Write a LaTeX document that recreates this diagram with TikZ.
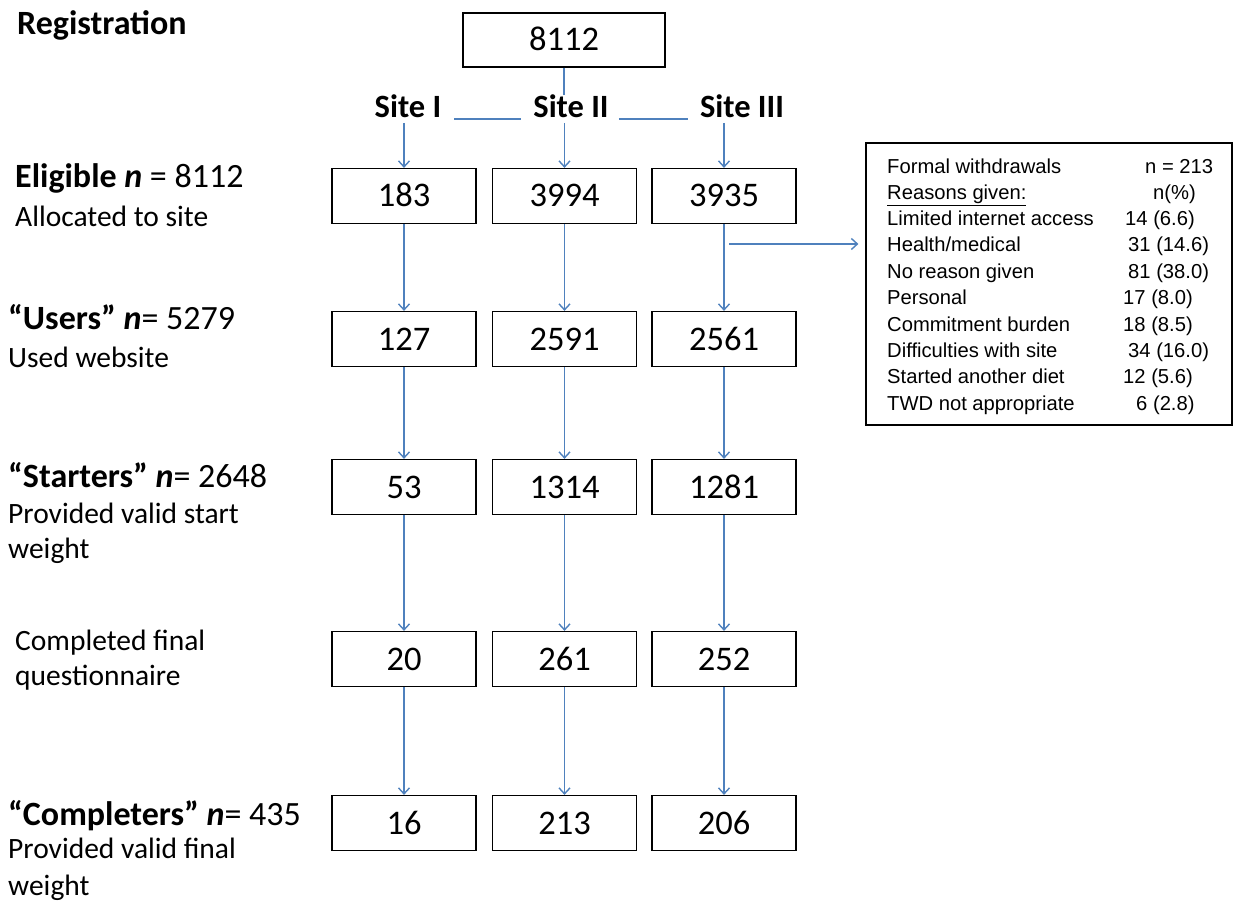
\documentclass[tikz,border=0pt]{standalone}
\usepackage{fontspec}
\setmainfont{Carlito}
\newfontfamily\boxfont{Liberation Sans}
\usetikzlibrary{arrows.meta}
\definecolor{arrblue}{RGB}{79,129,189}
\begin{document}
\begin{tikzpicture}[x=1pt,y=-1pt,
  numbox/.style={draw=black, line width=1.2pt, minimum width=144pt, minimum height=55pt, inner sep=0pt, text height=22pt, text depth=0pt, font=\fontsize{34.5}{38}\selectfont},
  sitelab/.style={font=\fontsize{32.5}{36}\selectfont\bfseries, inner sep=0pt, anchor=base},
  head/.style={font=\fontsize{34}{36}\selectfont, anchor=base west, inner sep=0pt},
  sub/.style={font=\fontsize{29.5}{34}\selectfont, anchor=base west, inner sep=0pt},
  wdtxt/.style={font=\boxfont\fontsize{20.2}{22}\selectfont, anchor=base west, inner sep=0pt},
  link/.style={draw=arrblue, line width=1.3pt},
  arr/.style={link, -{Straight Barb[length=6pt,width=11pt,line width=1.4pt]}}
]
\useasboundingbox (0,0) rectangle (1237,901);

% left labels
\node[head] (lreg) at (17,35) {\textbf{Registration}};
\node[head] (lelig) at (15,188) {\textbf{Eligible \textit{n}} = 8112};
\node[sub] (lelig2) at (15,227) {Allocated to site};
\node[head] (luse) at (8,330) {\textbf{“Users” \textit{n}}= 5279};
\node[sub] (luse2) at (8,367) {Used website};
\node[head] (lsta) at (8,487) {\textbf{“Starters” \textit{n}}= 2648};
\node[sub] (lsta2) at (8,523) {Provided valid start};
\node[sub] (lsta3) at (8,558) {weight};
\node[sub] (lcq) at (15,650) {Completed final};
\node[sub] (lcq2) at (15,685) {questionnaire};
\node[head] (lcom) at (8,825) {\textbf{“Completers” \textit{n}}= 435};
\node[sub] (lcom2) at (8,858) {Provided valid final};
\node[sub] (lcom3) at (8,895) {weight};

% top box and sites
\node[numbox, minimum width=202pt, minimum height=54pt] (top) at (564,40) {8112};
\node[sitelab] (s1) at (408,118) {Site I};
\node[sitelab] (s2) at (571,118) {Site II};
\node[sitelab] (s3) at (742,118) {Site III};

% boxes
\node[numbox] (b11) at (404,196) {183};
\node[numbox] (b12) at (564.5,196) {3994};
\node[numbox] (b13) at (724,196) {3935};
\node[numbox] (b21) at (404,339) {127};
\node[numbox] (b22) at (564.5,339) {2591};
\node[numbox] (b23) at (724,339) {2561};
\node[numbox] (b31) at (404,487) {53};
\node[numbox] (b32) at (564.5,487) {1314};
\node[numbox] (b33) at (724,487) {1281};
\node[numbox] (b41) at (404,659) {20};
\node[numbox] (b42) at (564.5,659) {261};
\node[numbox] (b43) at (724,659) {252};
\node[numbox] (b51) at (404,823) {16};
\node[numbox] (b52) at (564.5,823) {213};
\node[numbox] (b53) at (724,823) {206};

% withdrawal box
\node[draw=black, line width=1.2pt, minimum width=366pt, minimum height=282pt, inner sep=0pt] (wd) at (1049,284) {};
\node[wdtxt] (w1) at (887,174) {Formal withdrawals};
\node[wdtxt] (w1v) at (1145,174) {n = 213};
\node[wdtxt] (w2) at (887,200) {\underline{Reasons given:}};
\node[wdtxt] (w2v) at (1153,200) {n(\%)};
\node[wdtxt] (w3) at (887,226) {Limited internet access};
\node[wdtxt] (w3v) at (1125,226) {14 (6.6)};
\node[wdtxt] (w4) at (887,252) {Health/medical};
\node[wdtxt] (w4v) at (1128,252) {31 (14.6)};
\node[wdtxt] (w5) at (887,279) {No reason given};
\node[wdtxt] (w5v) at (1128,279) {81 (38.0)};
\node[wdtxt] (w6) at (887,305) {Personal};
\node[wdtxt] (w6v) at (1123,305) {17 (8.0)};
\node[wdtxt] (w7) at (887,331) {Commitment burden};
\node[wdtxt] (w7v) at (1123,331) {18 (8.5)};
\node[wdtxt] (w8) at (887,357) {Difficulties with site};
\node[wdtxt] (w8v) at (1128,357) {34 (16.0)};
\node[wdtxt] (w9) at (887,383) {Started another diet};
\node[wdtxt] (w9v) at (1123,383) {12 (5.6)};
\node[wdtxt] (w10) at (887,410) {TWD not appropriate};
\node[wdtxt] (w10v) at (1136,410) {6 (2.8)};

% connectors
\draw[link] (top.south) -- (top.south |- s2.north);
\draw[link] ([shift={(13,1)}]s1.base east) -- ([shift={(-12,1)}]s2.base west);
\draw[link] ([shift={(10,1)}]s2.base east) -- ([shift={(-12,1)}]s3.base west);
\draw[arr] ([yshift=-5pt]b11.north |- s1.base) -- (b11.north);
\draw[arr] ([yshift=-5pt]b12.north |- s2.base) -- (b12.north);
\draw[arr] ([yshift=-5pt]b13.north |- s3.base) -- (b13.north);

\foreach \c in {1,2,3}{
  \draw[arr] (b1\c) -- (b2\c);
  \draw[arr] (b2\c) -- (b3\c);
  \draw[arr] (b3\c) -- (b4\c);
  \draw[arr] (b4\c) -- (b5\c);
}
\coordinate (br) at (729,244);
\draw[arr] (br) -- ([xshift=-7pt]wd.west |- br);
\end{tikzpicture}
\end{document}
